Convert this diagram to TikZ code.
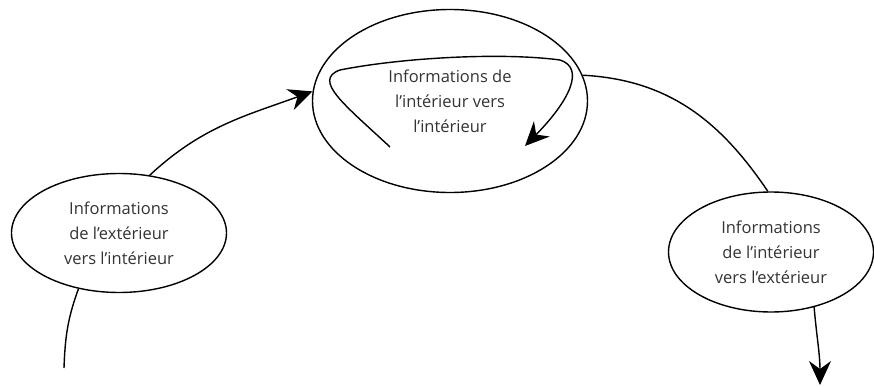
\documentclass[tikz,border=0pt]{standalone}
\usepackage{fontspec}
\setmainfont{Open Sans}
\usetikzlibrary{
    positioning,      % relative placement
    shapes.geometric, % ellipse nodes
    arrows.meta       % Stealth tips
}

\begin{document}
\begin{tikzpicture}[
    x=1pt, y=1pt,
    % Style for the three information bubbles
    bubble/.style={
        draw, ellipse,
        line width=1.4pt,
        inner sep=0pt,
        align=center,
        text=black!80,
        font=\fontsize{16.5}{25}\selectfont
    },
    % Style for the connecting lines
    flow_line/.style={
        line width=1.4pt
    },
    % Style for arrowheads
    arrow_tip/.style={
        -{Stealth[length=24pt, width=22pt, inset=8pt]}
    }
]
    \useasboundingbox (0,0) rectangle (874,-387);

    % 1. The three bubbles.
    \node[bubble, minimum width=275pt, minimum height=183pt] (inner_info) at (450,-101)
        {Informations de\\l’intérieur vers\\l’intérieur};
    \node[bubble, minimum width=215pt, minimum height=119pt] (outside_in) at (119,-233)
        {Informations\\de l’extérieur\\vers l’intérieur};
    \node[bubble, minimum width=205pt, minimum height=120pt] (inside_out) at (771,-252)
        {Informations\\de l’intérieur\\vers l’extérieur};

    % 2. Free ends of the flow.
    \coordinate (flow_start) at (64,-368);
    \coordinate (flow_end) at (820,-385);
    \coordinate (loop_start) at (390,-147);
    \coordinate (loop_end) at (525,-146);

    % 3. The flow from outside, through the inside, back out.
    \draw[flow_line] (flow_start) to[out=88, in=-110] (outside_in.234);
    \draw[flow_line, arrow_tip] (outside_in.62) to[out=43, in=200] (inner_info.176);
    \draw[flow_line] (inner_info.11) to[out=-3, in=124] (inside_out.93);
    \draw[flow_line, arrow_tip] (inside_out.-52) to[out=-85, in=90] (flow_end);

    % 4. The loop inside the top bubble.
    \draw[flow_line, arrow_tip] (loop_start)
        .. controls (345,-105) and (312,-80) .. (340,-70)
        .. controls (400,-58) and (500,-52) .. (560,-60)
        .. controls (585,-68) and (570,-100) .. (loop_end);

\end{tikzpicture}
\end{document}
